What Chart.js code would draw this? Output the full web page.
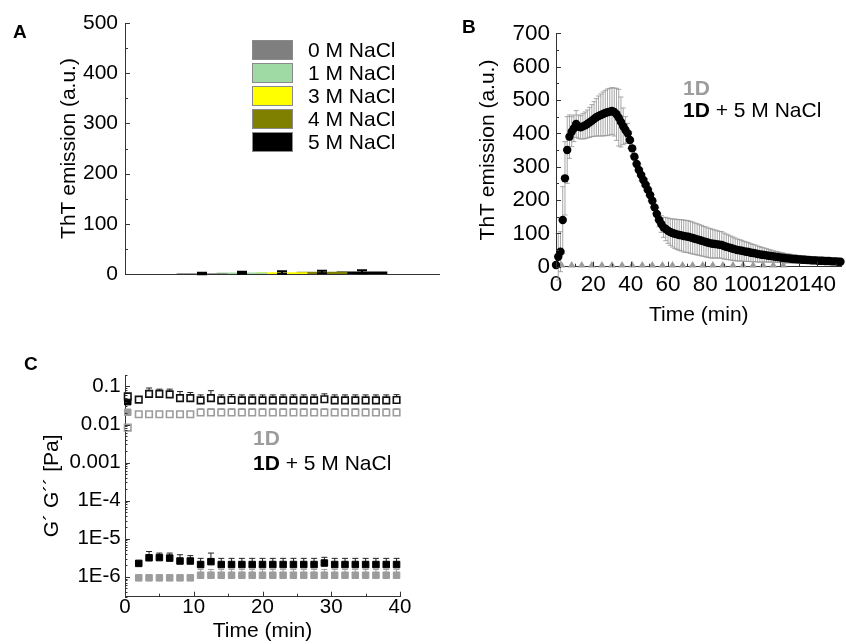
<!DOCTYPE html>
<html>
<head>
<meta charset="utf-8">
<script src="https://cdn.jsdelivr.net/npm/chart.js@4.4.0/dist/chart.umd.min.js"></script>
<style>
  html, body { margin: 0; padding: 0; background: #fff; }
  #fig { position: relative; width: 846px; height: 644px; overflow: hidden;
         font-family: 'Liberation Sans', Arial, Helvetica, sans-serif; }
  #fig canvas { position: absolute; left: 0; top: 0; }
  .t { position: absolute; white-space: nowrap; font-size: 21px; line-height: 21px; color: #000; }
  .panel { position: absolute; font-size: 19px; line-height: 19px; font-weight: bold; }
  .gray { color: #9c9c9c; font-weight: bold; }
  .box { position: absolute; width: 39px; height: 18px; border: 1px solid #8a8a8a; }
</style>
</head>
<body>
<div id="fig">
  <canvas id="chartA" width="846" height="644"></canvas>
  <canvas id="chartB" width="846" height="644"></canvas>
  <canvas id="chartC" width="846" height="644"></canvas>

  <div class="panel" style="left:13px;top:21.7px;">A</div>
  <div class="panel" style="left:462px;top:16.7px;">B</div>
  <div class="panel" style="left:24px;top:354.2px;">C</div>

  <div id="legendA"></div>

  <div class="t gray" style="left:683px;top:77.2px;">1D</div>
  <div class="t" style="left:683px;top:98.7px;"><b>1D</b> + 5 M NaCl</div>

  <div class="t gray" style="left:253px;top:427.2px;">1D</div>
  <div class="t" style="left:253px;top:452.2px;"><b>1D</b> + 5 M NaCl</div>
</div>

<script>
// ---------- Panel A: ThT emission vs. NaCl concentration ----------
const saltLabels = ['0 M NaCl', '1 M NaCl', '3 M NaCl', '4 M NaCl', '5 M NaCl'];
const thtMeans   = [1, 2.5, 3, 4, 4.5];
const thtErrors  = [1.5, 2, 2.5, 2.5, 3];
const thtTicksA  = [0, 100, 200, 300, 400, 500];
const saltColors = ['#7f7f7f', '#9fd9a4', '#ffff00', '#808000', '#000000'];

// ---------- Panel B: ThT emission kinetics ----------
const timeSalt = [0,1.2,2.4,3.6,4.8,6,7.2,8.4,9.6,10.8,12,13.2,14.4,15.6,16.8,18,19.2,20.4,21.6,22.8,
  24,25.2,26.4,27.6,28.8,30,31.2,32.4,33.6,34.8,36,37.2,38.4,39.6,40.8,42,43.2,44.4,45.6,46.8,
  48,49.2,50.4,51.6,52.8,54,55.2,56.4,57.6,58.8,60,61.2,62.4,63.6,64.8,66,67.2,68.4,69.6,70.8,
  72,73.2,74.4,75.6,76.8,78,79.2,80.4,81.6,82.8,84,85.2,86.4,87.6,88.8,90,91.2,92.4,93.6,94.8,
  96,97.2,98.4,99.6,100.8,102,103.2,104.4,105.6,106.8,108,109.2,110.4,111.6,112.8,114,115.2,116.4,117.6,118.8,
  120,121.2,122.4,123.6,124.8,126,127.2,128.4,129.6,130.8,132,133.2,134.4,135.6,136.8,138,139.2,140.4,141.6,142.8,
  144,145.2,146.4,147.6,148.8,150,151.2,152.4];
const thtSalt = [5,30,45,140,265,350,390,405,415,428,
  420,418,421,424,428,433,438,443,448,452,
  455,458,461,463,465,467,464,457,447,434,
  421,410,400,380,355,330,308,290,275,260,
  246,231,215,198,178,158,140,128,118,113,
  108,104,101,99,97,95,94,92,91,90,
  88,86,84,82,80,78,76,74,72,70,
  69,68,67,66,65,62,60,58,56,54,
  52,50,49,48,46,45,44,42,41,40,
  38,37,36,35,34,33,32,31,30,29,
  28,27,26,25,25,24,23,23,22,22,
  21,21,20,20,19,19,19,18,18,18,
  17,17,17,16,16,16,15,15];
const thtSaltErr = [5,70,60,100,110,100,65,45,40,40,
  35,35,38,40,42,45,48,52,56,60,
  63,66,68,70,70,70,72,78,85,75,
  55,40,30,25,22,20,18,18,18,18,
  18,18,18,18,18,18,20,25,30,35,
  38,40,42,44,45,46,47,48,48,48,
  48,48,47,47,46,46,45,45,44,44,
  43,42,41,40,40,39,38,37,36,35,
  34,33,32,31,30,29,28,27,26,25,
  24,23,22,21,20,19,18,17,16,16,
  15,15,14,14,13,13,12,12,12,11,
  11,11,10,10,10,10,9,9,9,9,
  9,8,8,8,8,8,8,8];
const timePlain = [3,8.4,13.8,19.2,24.6,30,35.4,40.8,46.2,51.6,57,62.4,67.8,73.2,78.6,84,89.4,94.8,100.2,105.6,111,116.4,121.8];
const thtPlain  = [4,4,4,4,4,4,4,4,4,4,4,4,4,4,4,4,4,4,4,4,4,4,4];
const thtTicksB  = [0, 100, 200, 300, 400, 500, 600, 700];
const timeTicksB = [0, 20, 40, 60, 80, 100, 120, 140];

// ---------- Panel C: rheology, G' and G'' ----------
const timeRheo = [0.4,2,3.5,5,6.5,8,9.5,11,12.5,14,15.5,17,18.5,20,21.5,23,24.5,26,27.5,29,30.5,32,33.5,35,36.5,38,39.5];
const upperSalt    = [0.055,0.045,0.064,0.064,0.062,0.0495,0.0495,0.043,0.0495,
  0.043,0.044,0.043,0.043,0.043,0.043,0.043,0.043,0.043,0.043,
  0.046,0.043,0.043,0.043,0.043,0.043,0.043,0.044];
const upperSaltErr = [0,0.006,0.027,0.021,0.023,0.024,0.02,0.017,0.028,
  0.017,0.017,0.017,0.017,0.017,0.017,0.017,0.017,0.017,0.017,
  0.018,0.017,0.017,0.017,0.017,0.017,0.017,0.017];
const upperPlain    = [0.0083,0.0187,0.0187,0.0187,0.0187,0.0187,0.0187,
  0.0207,0.0207,0.0207,0.0207,0.0207,0.0207,0.0207,0.0207,0.0207,0.0207,
  0.0207,0.0207,0.0207,0.0207,0.0207,0.0207,0.0207,0.0207,0.0207,0.0207];
const upperPlainErr = [0,0,0,0,0,0,0,
  0.0053,0.0053,0.0053,0.0053,0.0053,0.0053,0.0053,0.0053,0.0053,0.0053,
  0.0053,0.0053,0.0053,0.0053,0.0053,0.0053,0.0053,0.0053,0.0053,0.0053];
const lowerSalt    = [0.04,2.25e-6,3.16e-6,3.2e-6,3.1e-6,2.6e-6,2.6e-6,2.1e-6,2.5e-6,
  2.1e-6,2.1e-6,2.1e-6,2.1e-6,2.1e-6,2.1e-6,2.1e-6,2.1e-6,2.1e-6,2.1e-6,
  2.3e-6,2.1e-6,2.1e-6,2.1e-6,2.1e-6,2.1e-6,2.1e-6,2.1e-6];
const lowerSaltErr = [0,0.3e-6,1.45e-6,1.0e-6,1.1e-6,1.2e-6,1.0e-6,0.95e-6,1.7e-6,
  0.95e-6,0.95e-6,0.95e-6,0.95e-6,0.95e-6,0.95e-6,0.95e-6,0.95e-6,0.95e-6,0.95e-6,
  0.95e-6,0.95e-6,0.95e-6,0.95e-6,0.95e-6,0.95e-6,0.95e-6,0.95e-6];
const lowerPlain    = [0.021,0.94e-6,0.94e-6,0.94e-6,0.94e-6,0.94e-6,0.94e-6,
  1.1e-6,1.1e-6,1.1e-6,1.1e-6,1.1e-6,1.1e-6,1.1e-6,1.1e-6,1.1e-6,1.1e-6,
  1.1e-6,1.1e-6,1.1e-6,1.1e-6,1.1e-6,1.1e-6,1.1e-6,1.1e-6,1.1e-6,1.1e-6];
const lowerPlainErr = [0,0,0,0,0,0,0,
  0.46e-6,0.46e-6,0.46e-6,0.46e-6,0.46e-6,0.46e-6,0.46e-6,0.46e-6,0.46e-6,0.46e-6,
  0.46e-6,0.46e-6,0.46e-6,0.46e-6,0.46e-6,0.46e-6,0.46e-6,0.46e-6,0.46e-6,0.46e-6];
const modTicksC      = [1e-6, 1e-5, 1e-4, 1e-3, 1e-2, 1e-1];
const modTickLabelsC = ['1E-6', '1E-5', '1E-4', '0.001', '0.01', '0.1'];
const timeTicksC     = [0, 10, 20, 30, 40];

// ---------- shared settings ----------
const FONT = "'Liberation Sans', Arial, Helvetica, sans-serif";
Chart.defaults.font.family = FONT;
Chart.defaults.color = '#000';
Chart.defaults.animation = false;
Chart.defaults.responsive = false;
Chart.defaults.plugins.legend.display = false;
Chart.defaults.plugins.tooltip.enabled = false;

const AXIS = '#333';
const GRAY = '#9c9c9c';

const pts = (xs, ys) => xs.map((x, i) => ({ x: x, y: ys[i] }));
const fixedWidth  = w => s => { s.width = w; };
const fixedHeight = h => s => { s.height = h; };
const useTicks = vals => s => { s.ticks = vals.map(v => ({ value: v })); };
const between = (lo, hi, step) => { const out = []; for (let v = lo; v <= hi + 1e-9; v += step) out.push(v); return out; };
const logMinors = (lo, hi) => {
  const out = [];
  for (let e = -8; e <= 1; e++) for (let k = 2; k <= 9; k++) {
    const v = k * Math.pow(10, e);
    if (v >= lo && v <= hi) out.push(v);
  }
  return out;
};

// error bars drawn through the dataset's own y scale
const errorBarPlugin = {
  id: 'errorBars',
  draw(chart, front) {
    const ctx = chart.ctx;
    chart.data.datasets.forEach((ds, i) => {
      const eb = ds.errorBars;
      if (!eb || !!eb.front !== front) return;
      const meta = chart.getDatasetMeta(i);
      const ys = chart.scales[meta.yAxisID];
      ctx.save();
      ctx.strokeStyle = eb.color;
      ctx.lineWidth = eb.lineWidth || 1;
      meta.data.forEach((el, j) => {
        const raw = ds.data[j];
        const v = (typeof raw === 'object') ? raw.y : raw;
        const up = eb.plus ? eb.plus[j] : 0;
        const dn = eb.minus ? eb.minus[j] : 0;
        if (!up && !dn) return;
        const x = el.x, hw = eb.capWidth / 2;
        const yTop = ys.getPixelForValue(v + up);
        const yBot = dn ? ys.getPixelForValue(v - dn) : el.y;
        ctx.beginPath();
        ctx.moveTo(x, yBot); ctx.lineTo(x, yTop);
        if (up) { ctx.moveTo(x - hw, yTop); ctx.lineTo(x + hw, yTop); }
        if (dn) { ctx.moveTo(x - hw, yBot); ctx.lineTo(x + hw, yBot); }
        ctx.stroke();
      });
      ctx.restore();
    });
  },
  beforeDatasetsDraw(chart) { this.draw(chart, false); },
  afterDatasetsDraw(chart) { this.draw(chart, true); }
};

// tick marks pointing into the plot area
const innerTicksPlugin = {
  id: 'innerTicks',
  afterDraw(chart, args, opts) {
    const ctx = chart.ctx, area = chart.chartArea;
    ctx.save();
    ctx.strokeStyle = AXIS;
    ctx.lineWidth = 1;
    Object.keys(opts.axes || {}).forEach(id => {
      const spec = opts.axes[id], scale = chart.scales[id];
      const mark = (v, len) => {
        const p = Math.round(scale.getPixelForValue(v)) + 0.5;
        ctx.beginPath();
        if (scale.isHorizontal()) { ctx.moveTo(p, area.bottom); ctx.lineTo(p, area.bottom - len); }
        else { ctx.moveTo(area.left, p); ctx.lineTo(area.left + len, p); }
        ctx.stroke();
      };
      (spec.major || []).forEach(v => mark(v, spec.majorLen));
      (spec.minor || []).forEach(v => mark(v, spec.minorLen));
    });
    ctx.restore();
  }
};
Chart.register(errorBarPlugin, innerTicksPlugin);

const noGrid = { display: false, drawTicks: false };
const border = { color: AXIS, width: 1 };

// ---------- Panel A ----------
new Chart(document.getElementById('chartA'), {
  type: 'bar',
  data: {
    datasets: saltLabels.map((lab, i) => ({
      label: lab,
      data: [{ x: i, y: thtMeans[i] }],
      backgroundColor: saltColors[i],
      barThickness: 50,
      grouped: false,
      errorBars: { plus: [thtErrors[i]], minus: [thtErrors[i]], color: '#000', capWidth: 10, lineWidth: 2, front: true }
    }))
  },
  options: {
    layout: { padding: { left: 56.4, top: 23, right: 407, bottom: 369 } },
    scales: {
      x: { type: 'linear', min: -1.14, max: 5.14, grid: noGrid, border: border,
           ticks: { display: false }, afterFit: fixedHeight(1) },
      y: { min: 0, max: 500, grid: noGrid, border: border,
           afterBuildTicks: useTicks(thtTicksA),
           ticks: { font: { size: 21 }, padding: 7 },
           title: { display: true, text: 'ThT emission (a.u.)', font: { size: 21 }, padding: 0 },
           afterFit: fixedWidth(68.6) }
    },
    plugins: {
      innerTicks: { axes: { y: { major: thtTicksA, minor: between(50, 450, 100), majorLen: 5, minorLen: 3 } } }
    }
  }
});

// legend for panel A, built from the same labels and colours
(function () {
  const host = document.getElementById('legendA');
  saltLabels.forEach((lab, i) => {
    const b = document.createElement('div');
    b.className = 'box';
    b.style.left = '252px';
    b.style.top = (40 + 23 * i) + 'px';
    b.style.background = saltColors[i];
    host.appendChild(b);
    const t = document.createElement('div');
    t.className = 't';
    t.style.left = '308px';
    t.style.top = (39.3 + 23 * i) + 'px';
    t.textContent = lab;
    host.appendChild(t);
  });
})();

// ---------- Panel B ----------
new Chart(document.getElementById('chartB'), {
  type: 'scatter',
  data: {
    datasets: [
      { label: '1D + 5 M NaCl', data: pts(timeSalt, thtSalt), order: 1,
        pointStyle: 'circle', pointRadius: 4.2, backgroundColor: '#000', borderWidth: 0,
        errorBars: { plus: thtSaltErr, minus: thtSaltErr, color: 'rgba(150,150,150,0.85)', capWidth: 5, lineWidth: 1 } },
      { label: '1D', data: pts(timePlain, thtPlain), order: 2,
        pointStyle: 'triangle', pointRadius: 4.4, backgroundColor: GRAY, borderColor: GRAY, borderWidth: 0 }
    ]
  },
  options: {
    clip: false,
    layout: { padding: { left: 475.4, top: 33.3, right: 1, bottom: 315.9 } },
    scales: {
      x: { type: 'linear', min: 0, max: 153, grid: noGrid, border: border,
           afterBuildTicks: useTicks(timeTicksB),
           ticks: { font: { size: 22.5 }, padding: 4.8, maxRotation: 0, autoSkip: false },
           title: { display: true, text: 'Time (min)', font: { size: 21 }, padding: 0 },
           afterFit: fixedHeight(61.4) },
      y: { min: 0, max: 700, grid: noGrid, border: border,
           afterBuildTicks: useTicks(thtTicksB),
           ticks: { font: { size: 22.5 }, padding: 6 },
           title: { display: true, text: 'ThT emission (a.u.)', font: { size: 21 }, padding: 0 },
           afterFit: fixedWidth(80.6) }
    },
    plugins: {
      innerTicks: { axes: {
        x: { major: timeTicksB, minor: between(10, 150, 20), majorLen: 5, minorLen: 3 },
        y: { major: thtTicksB, minor: between(50, 650, 100), majorLen: 5, minorLen: 3 }
      } }
    }
  }
});

// ---------- Panel C ----------
const openSq = c => ({ pointStyle: 'rect', pointRadius: 4.6, backgroundColor: '#fff', borderColor: c, borderWidth: 1.6 });
const fullSq = c => ({ pointStyle: 'rect', pointRadius: 4.6, backgroundColor: c, borderColor: c, borderWidth: 1 });
new Chart(document.getElementById('chartC'), {
  type: 'scatter',
  data: {
    datasets: [
      Object.assign({ label: "G' 1D + 5 M NaCl", data: pts(timeRheo, upperSalt),
        errorBars: { plus: upperSaltErr, color: '#222', capWidth: 6, lineWidth: 1 } }, openSq('#111')),
      Object.assign({ label: "G' 1D", data: pts(timeRheo, upperPlain),
        errorBars: { plus: upperPlainErr, color: GRAY, capWidth: 6, lineWidth: 1 } }, openSq(GRAY)),
      Object.assign({ label: "G'' 1D + 5 M NaCl", data: pts(timeRheo, lowerSalt),
        errorBars: { plus: lowerSaltErr, color: '#222', capWidth: 6, lineWidth: 1 } }, fullSq('#000')),
      Object.assign({ label: "G'' 1D", data: pts(timeRheo, lowerPlain),
        errorBars: { plus: lowerPlainErr, color: GRAY, capWidth: 6, lineWidth: 1 } }, fullSq(GRAY))
    ]
  },
  options: {
    clip: false,
    layout: { padding: { left: 39.4, top: 375, right: 446, bottom: 0 } },
    scales: {
      x: { type: 'linear', min: 0, max: 40, grid: noGrid, border: border,
           afterBuildTicks: useTicks(timeTicksC),
           ticks: { font: { size: 20.5 }, padding: -2, maxRotation: 0 },
           title: { display: true, text: 'Time (min)', font: { size: 21 }, padding: 0 },
           afterFit: fixedHeight(47.3) },
      y: { type: 'logarithmic', min: 3e-7, max: 0.2, grid: noGrid, border: border,
           afterBuildTicks: useTicks(modTicksC),
           ticks: { font: { size: 20.5 }, padding: 4.3, callback: (v, i) => modTickLabelsC[i] },
           title: { display: true, text: 'G´ G´´ [Pa]', font: { size: 21 }, padding: 0 },
           afterFit: fixedWidth(85.6) }
    },
    plugins: {
      innerTicks: { axes: {
        x: { major: timeTicksC, minor: [5, 15, 25, 35], majorLen: 5, minorLen: 3 },
        y: { major: modTicksC, minor: logMinors(3e-7, 0.2), majorLen: 5, minorLen: 2.5 }
      } }
    }
  }
});
</script>
</body>
</html>
